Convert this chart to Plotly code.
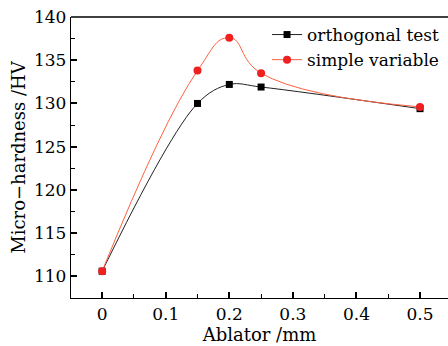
import plotly.graph_objects as go

x_vals = [0, 0.15, 0.2, 0.25, 0.5]
orthogonal = [110.6, 130.0, 132.2, 131.9, 129.4]
simple = [110.6, 133.8, 137.6, 133.5, 129.6]
x_ticks = [0, 0.1, 0.2, 0.3, 0.4, 0.5]
x_minor = [0.05, 0.15, 0.25, 0.35, 0.45]
y_ticks = [110, 115, 120, 125, 130, 135, 140]
y_minor = [107.5, 112.5, 117.5, 122.5, 127.5, 132.5, 137.5]

font = "DejaVu Serif"

fig = go.Figure()
fig.add_trace(go.Scatter(
    x=x_vals, y=orthogonal, name="orthogonal test",
    mode="lines+markers", line=dict(color="#222222", width=1, shape="spline", smoothing=1.0),
    marker=dict(symbol="square", size=7, color="black")))
fig.add_trace(go.Scatter(
    x=x_vals, y=simple, name="simple variable",
    mode="lines+markers", line=dict(color="#ff6040", width=1, shape="spline", smoothing=1.3),
    marker=dict(symbol="circle", size=8, color="#ee2020")))

fig.update_xaxes(range=[-0.049, 0.544], tickmode="array", tickvals=x_ticks,
                 ticktext=[str(v) for v in x_ticks], automargin=False,
                 showgrid=False, zeroline=False, showline=True, linecolor="black", linewidth=1.3,
                 ticks="inside", ticklen=6, tickcolor="black", tickwidth=1.5,
                 minor=dict(tickmode="array", tickvals=x_minor, ticks="inside", ticklen=4,
                            tickcolor="black", tickwidth=1.3, showgrid=False),
                 tickfont=dict(family=font, size=17, color="black"),
                 title=dict(text="Ablator /mm", font=dict(family=font, size=18, color="black"), standoff=2))
fig.update_yaxes(range=[107.5, 140], tickmode="array", tickvals=y_ticks, automargin=False,
                 showgrid=False, zeroline=False, showline=True, linecolor="black", linewidth=1.3,
                 ticks="inside", ticklen=6, tickcolor="black", tickwidth=1.5,
                 minor=dict(tickmode="array", tickvals=y_minor, ticks="inside", ticklen=4,
                            tickcolor="black", tickwidth=1.3, showgrid=False),
                 tickfont=dict(family=font, size=17, color="black"),
                 title=dict(text="Micro\u2212hardness /HV", font=dict(family=font, size=18, color="black"), standoff=3))
fig.add_shape(type="line", xref="paper", yref="paper", x0=0, x1=1, y0=1, y1=1,
              line=dict(color="black", width=1.3))

fig.update_layout(
    width=448, height=346,
    margin=dict(l=71, r=0, t=17, b=48, autoexpand=False),
    plot_bgcolor="white", paper_bgcolor="white",
    showlegend=True,
    legend=dict(x=0.52, y=1.0, xanchor="left", yanchor="top",
                font=dict(family=font, size=17, color="black"),
                bgcolor="rgba(0,0,0,0)", tracegroupgap=0, itemwidth=30),
)
fig.write_html("out.html")
